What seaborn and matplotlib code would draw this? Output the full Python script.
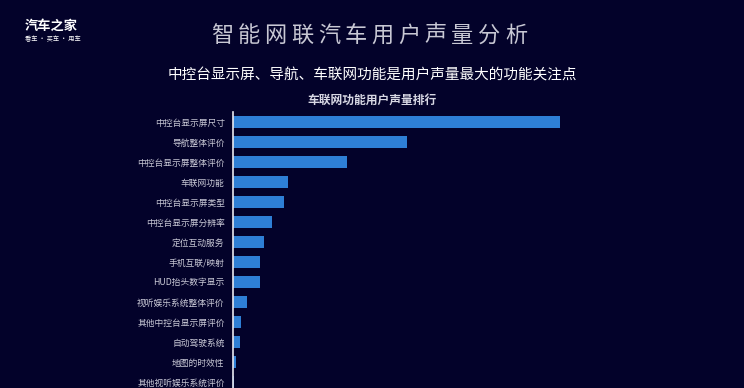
import matplotlib
matplotlib.use("Agg")
import matplotlib.pyplot as plt
import seaborn as sns
import pandas as pd

categories = ["中控台显示屏尺寸", "导航整体评价", "中控台显示屏整体评价", "车联网功能",
              "中控台显示屏类型", "中控台显示屏分辨率", "定位互动服务", "手机互联/映射",
              "HUD抬头数字显示", "视听娱乐系统整体评价", "其他中控台显示屏评价",
              "自动驾驶系统", "地图的时效性", "其他视听娱乐系统评价"]
values = [327, 174, 114, 55, 51, 39, 31, 27, 27, 14, 8, 7, 3, 1]
main_title = "智能网联汽车用户声量分析"

sns.set_theme(style="white")
plt.rcParams['font.family'] = ['Noto Sans CJK SC', 'DejaVu Sans']

BG = "#03022a"
BAR = "#2e7fd6"

fig = plt.figure(figsize=(7.44, 3.88), dpi=100, facecolor=BG)
ax = fig.add_axes([233/744, 0, 367/744, 1 - 112/388])
ax.set_facecolor(BG)

df = pd.DataFrame({"cat": categories, "val": values})
sns.barplot(data=df, y="cat", x="val", color=BAR, saturation=1, width=0.6,
            linewidth=0, edgecolor=BAR, ax=ax)

ax.set_xlim(0, 367)
ax.set_ylim(13.3, -0.5)
for s in ["top", "right", "bottom"]:
    ax.spines[s].set_visible(False)
ax.spines["left"].set_color("#e8e8f0")
ax.spines["left"].set_linewidth(1.2)
ax.set_xticks([])
ax.set_xlabel("")
ax.set_ylabel("")
ax.tick_params(axis="y", length=0, pad=6, labelsize=6.3, labelcolor="#c9c9d6")

# letter-spaced main title
x0, x1 = 222, 516
n = len(main_title)
for i, ch in enumerate(main_title):
    fig.text((x0 + (x1 - x0) * i / (n - 1)) / 744, 1 - 35/388, ch, ha="center", va="center",
             fontsize=16, color="#c8c8d4", fontweight="light")

fig.text(0.5, 1 - 75/388, "中控台显示屏、导航、车联网功能是用户声量最大的功能关注点", ha="center",
         va="center", fontsize=10.5, color="#ffffff")
fig.text(0.5, 1 - 101/388, "车联网功能用户声量排行", ha="center", va="center",
         fontsize=8.5, color="#d8d8e4", fontweight="bold")
fig.text(25/744, 1 - 26/388, "汽车之家", ha="left", va="center", fontsize=9.5,
         color="#ffffff", fontweight="bold")
fig.text(25/744, 1 - 39/388, "看车 · 买车 · 用车", ha="left", va="center", fontsize=4.5,
         color="#ffffff")

fig.savefig("out.png", dpi=100, facecolor=BG)
